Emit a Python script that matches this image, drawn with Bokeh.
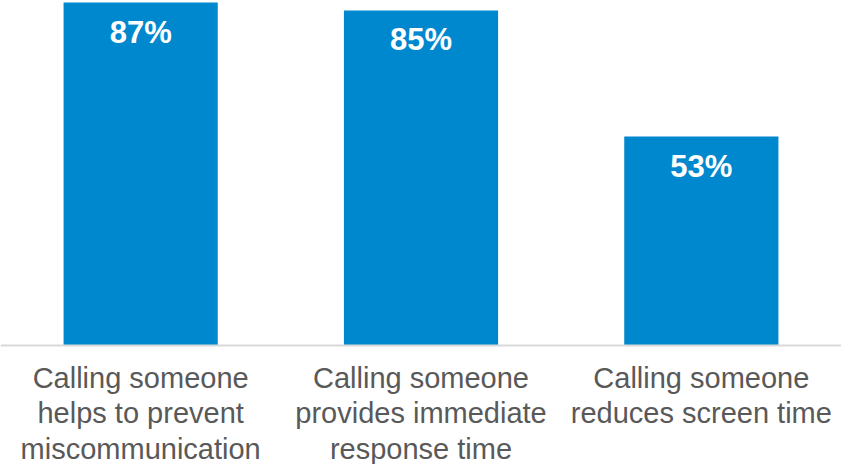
from bokeh.plotting import figure
from bokeh.models import ColumnDataSource, FactorRange, Range1d, Span
from bokeh.core.properties import value
from bokeh.embed import file_html
from bokeh.resources import INLINE

categories = ["A", "B", "C"]
labels = [
    "Calling someone\nhelps to prevent\nmiscommunication",
    "Calling someone\nprovides immediate\nresponse time",
    "Calling someone\nreduces screen time",
]
values = [87, 85, 53]
value_labels = ["87%", "85%", "53%"]

W, H = 841, 464
base_px = 345
top_px = 2
ppu = (base_px - top_px) / max(values)
y_end = max(values) + top_px / ppu
y_start = -(H - base_px) / ppu

src = ColumnDataSource(dict(cat=categories, val=values, vlab=value_labels, lab=labels,
                            zero=[0] * len(categories)))

p = figure(width=W, height=H, x_range=FactorRange(*categories, range_padding=0),
           y_range=Range1d(y_start, y_end), output_backend="svg", toolbar_location=None,
           min_border=0)
p.outline_line_color = None
p.axis.visible = False
p.grid.visible = False
p.background_fill_color = "white"
p.border_fill_color = "white"

p.vbar(x="cat", top="val", bottom=0, width=0.55, source=src, fill_color="#0088CE", line_color=None)
p.add_layout(Span(location=0, dimension="width", line_color="#D9D9D9", line_width=2))

p.text(x="cat", y="val", text="vlab", source=src, text_align="center", text_baseline="top",
       y_offset=12, text_color="white", text_font=value("Liberation Sans"),
       text_font_style="bold", text_font_size="31px")

p.text(x="cat", y="zero", text="lab", source=src, text_align="center", text_baseline="top",
       y_offset=16, text_color="#595959", text_font=value("Liberation Sans"),
       text_font_size="29px", text_line_height=1.11)

open("out.html", "w").write(file_html(p, INLINE))
